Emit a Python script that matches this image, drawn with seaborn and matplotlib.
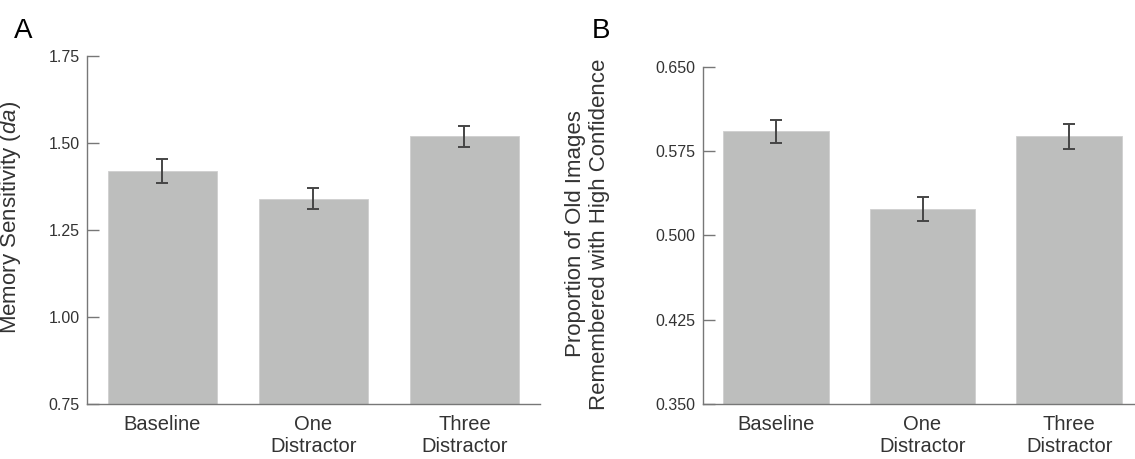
import matplotlib
matplotlib.use("Agg")
import matplotlib.pyplot as plt
import seaborn as sns
import numpy as np
from matplotlib.ticker import FormatStrFormatter

# ==========================================
# DATA
# ==========================================

CONDITIONS = ["Baseline", "One\nDistractor", "Three\nDistractor"]

# Panel A: memory sensitivity (da)
SENSITIVITY = [1.42, 1.34, 1.52]
SENSITIVITY_SEM = [0.035, 0.030, 0.030]
SENS_TICKS = [0.75, 1.00, 1.25, 1.50, 1.75]

# Panel B: proportion of old images remembered with high confidence
HIGH_CONF = [0.5925, 0.5235, 0.588]
HIGH_CONF_SEM = [0.0105, 0.011, 0.011]
CONF_TICKS = [0.350, 0.425, 0.500, 0.575, 0.650]

BAR_COLOR = "#bdbebd"
ERR_COLOR = "#454545"
SPINE_COLOR = "#777777"
TEXT_COLOR = "#333333"

# ==========================================

sns.set_theme(style="white")
plt.rcParams["font.family"] = ["Liberation Sans", "DejaVu Sans"]
plt.rcParams["mathtext.fontset"] = "custom"
plt.rcParams["mathtext.rm"] = "Liberation Sans"
plt.rcParams["mathtext.it"] = "Liberation Sans:italic"


def draw_panel(ax, values, sems, ticks, fmt, ylabel):
    sns.barplot(x=CONDITIONS, y=values, color=BAR_COLOR, saturation=1,
                width=0.72, edgecolor="#cfcfcf", linewidth=0.6, ax=ax)
    ax.errorbar(x=np.arange(len(values)), y=values, yerr=sems, fmt="none",
                ecolor=ERR_COLOR, elinewidth=1.4, capsize=4, capthick=1.4)

    ax.set_xlim(-0.5, len(values) - 0.5)
    ax.set_ylim(ticks[0], ticks[-1])
    ax.set_yticks(ticks)
    ax.yaxis.set_major_formatter(FormatStrFormatter(fmt))

    for side in ["top", "right"]:
        ax.spines[side].set_visible(False)
    for side in ["left", "bottom"]:
        ax.spines[side].set_color(SPINE_COLOR)
        ax.spines[side].set_linewidth(1.0)

    ax.tick_params(axis="y", direction="in", length=8.4, width=1.0,
                   color=SPINE_COLOR, pad=5.0, labelsize=11.5,
                   labelcolor=TEXT_COLOR, left=True)
    ax.tick_params(axis="x", length=0, pad=8, labelsize=14.5,
                   labelcolor=TEXT_COLOR)
    ax.set_ylabel(ylabel, fontsize=16, color=TEXT_COLOR)
    ax.set_xlabel("")


fig = plt.figure(figsize=(11.35, 4.59), dpi=100)
ax_a = fig.add_axes([0.0765, 0.1198, 0.3993, 0.758])
ax_b = fig.add_axes([0.619, 0.1198, 0.3876, 0.735])

draw_panel(ax_a, SENSITIVITY, SENSITIVITY_SEM, SENS_TICKS, "%.2f",
           r"Memory Sensitivity ($\mathit{da}$)")
ax_a.yaxis.set_label_coords(-0.141, 0.536)

draw_panel(ax_b, HIGH_CONF, HIGH_CONF_SEM, CONF_TICKS, "%.3f",
           "Proportion of Old Images\nRemembered with High Confidence")
ax_b.yaxis.set_label_coords(-0.21, 0.504)

fig.text(0.0123, 0.917, "A", fontsize=20, va="baseline", ha="left", color="black")
fig.text(0.521, 0.917, "B", fontsize=20, va="baseline", ha="left", color="black")

fig.savefig("out.png", dpi=100)
